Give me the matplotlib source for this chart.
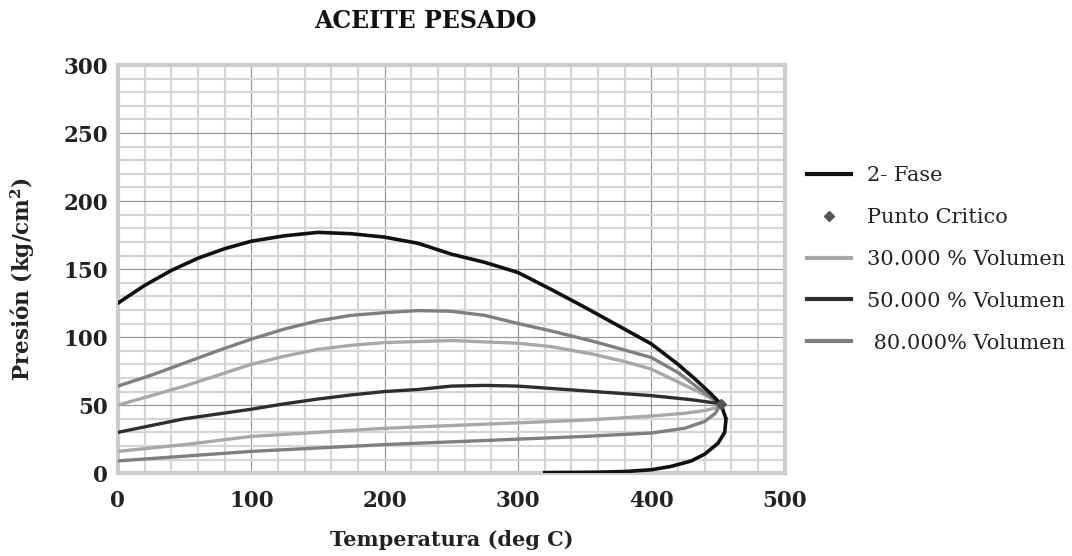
import matplotlib
matplotlib.use('Agg')
import matplotlib.pyplot as plt
from matplotlib.ticker import MultipleLocator
from matplotlib.lines import Line2D

plt.rcParams['font.family'] = 'DejaVu Serif'

# Phase envelope (dew branch then bubble branch), deg C / kg/cm2
fase_x = [0, 20, 40, 60, 80, 100, 125, 150, 175, 200, 225, 250, 275, 300, 325,
          350, 375, 400, 420, 433, 445, 452, 456, 455, 450, 440, 430, 415, 400,
          380, 360, 320]
fase_y = [125, 138, 149, 158, 165, 170.5, 174.5, 177, 176, 173.5, 169, 161, 155,
          147.5, 135, 122, 108.5, 95, 80, 69, 58, 51, 40, 30, 22, 14, 9, 5,
          2.5, 1.2, 0.7, 0.4]

critico_x = [452]
critico_y = [51]

vol30_x = [0, 25, 50, 75, 100, 125, 150, 175, 200, 250, 300, 325, 356, 380,
           400, 418, 435, 445, 452]
vol30_y = [50, 57, 64, 72, 80, 86, 91, 94, 96, 97.5, 95.5, 93, 87.5, 82, 76.5,
           68, 60, 55, 51]
vol30_low_x = [0, 50, 100, 150, 200, 250, 300, 350, 400, 425, 440, 448, 452]
vol30_low_y = [16, 21, 27, 30, 33, 35, 37, 39, 42, 44, 46, 48, 51]

vol50_x = [0, 25, 50, 75, 100, 125, 150, 175, 200, 225, 250, 275, 300, 350,
           400, 430, 452]
vol50_y = [30, 35, 40, 43.5, 47, 51, 54.5, 57.5, 60, 61.5, 64, 64.5, 64, 60.5,
           57, 54, 51]

vol80_x = [0, 25, 50, 75, 100, 125, 150, 175, 200, 225, 250, 275, 300, 325,
           356, 380, 400, 420, 428, 440, 452]
vol80_y = [64, 72, 81, 90, 98.5, 106, 112, 116, 118, 119.5, 119, 116, 110,
           104.5, 97, 90.5, 85, 74, 68, 59, 51]
vol80_low_x = [0, 50, 100, 150, 200, 250, 300, 350, 400, 425, 440, 448, 452]
vol80_low_y = [9, 12.5, 16, 18.5, 21, 23, 25, 27, 29.5, 33, 38, 44, 51]

legend_labels = ['2- Fase', 'Punto Critico', '30.000 % Volumen',
                 '50.000 % Volumen', ' 80.000% Volumen']

c_fase = '#111111'
c_30 = '#a8a8a8'
c_50 = '#2e2e2e'
c_80 = '#7f7f7f'

fig = plt.figure(figsize=(10.72, 5.56), dpi=100)
ax = fig.add_axes([0.110, 0.149, 0.622, 0.734])

ax.plot(vol30_x, vol30_y, color=c_30, lw=2.4, zorder=3)
ax.plot(vol30_low_x, vol30_low_y, color=c_30, lw=2.4, zorder=3)
ax.plot(vol80_x, vol80_y, color=c_80, lw=2.4, zorder=3)
ax.plot(vol80_low_x, vol80_low_y, color=c_80, lw=2.4, zorder=3)
ax.plot(vol50_x, vol50_y, color=c_50, lw=2.4, zorder=4)
ax.plot(fase_x, fase_y, color=c_fase, lw=2.6, zorder=5)
ax.plot(critico_x, critico_y, ls='none', marker='D', ms=5, color='#555555',
        zorder=6)

ax.set_xlim(0, 500)
ax.set_ylim(0, 300)
ax.xaxis.set_major_locator(MultipleLocator(100))
ax.xaxis.set_minor_locator(MultipleLocator(20))
ax.yaxis.set_major_locator(MultipleLocator(50))
ax.yaxis.set_minor_locator(MultipleLocator(10))
ax.set_axisbelow(True)
ax.grid(which='minor', color='#d6d6d6', lw=1.6)
ax.grid(which='major', color='#9a9a9a', lw=0.9)
ax.tick_params(which='both', length=0)
ax.tick_params(axis='y', pad=7)
ax.tick_params(axis='x', pad=12)
for lab in ax.get_xticklabels() + ax.get_yticklabels():
    lab.set_fontsize(15.5)
    lab.set_fontweight('bold')
    lab.set_color('#222222')
for sp in ax.spines.values():
    sp.set_color('#cccccc')
    sp.set_linewidth(3)

ax.set_xlabel('Temperatura (deg C)', fontsize=15, fontweight='bold',
              color='#222222')
ax.xaxis.set_label_coords(0.5, -0.14)
ax.set_ylabel('Presión (kg/cm$^\\mathregular{2}$)', fontsize=15.5,
              fontweight='bold', color='#222222')
ax.yaxis.set_label_coords(-0.121, 0.475)

fig.text(425 / 1072, 1 - 21 / 556, 'ACEITE PESADO', ha='center', va='center',
         fontsize=17, fontweight='bold', color='#111111')

handles = [
    Line2D([], [], color=c_fase, lw=3),
    Line2D([], [], ls='none', marker='D', ms=5, color='#555555'),
    Line2D([], [], color=c_30, lw=3),
    Line2D([], [], color=c_50, lw=3),
    Line2D([], [], color=c_80, lw=3),
]
fig.legend(handles, legend_labels, loc='upper left',
           bbox_to_anchor=(807 / 1072, 1 - 166 / 556), frameon=False,
           fontsize=15, handlelength=2.1, handletextpad=0.8, labelspacing=1.1,
           borderpad=0, borderaxespad=0, numpoints=1, labelcolor='#222222')

fig.savefig('out.png', dpi=100)
